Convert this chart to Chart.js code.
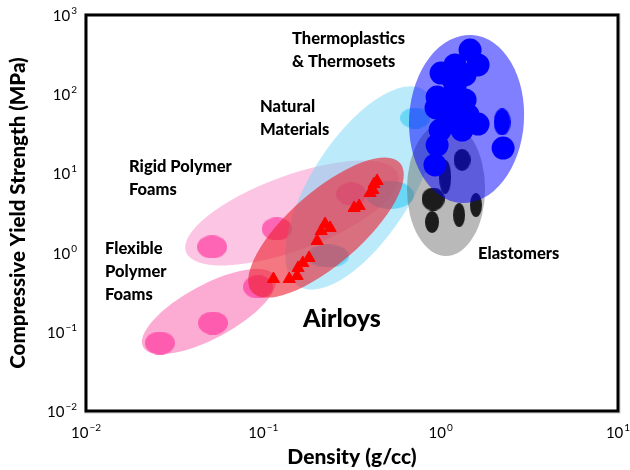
<!DOCTYPE html>
<html>
<head>
<meta charset="utf-8">
<script src="https://cdn.jsdelivr.net/npm/chart.js@4/dist/chart.umd.min.js"></script>
<style>body{margin:0;background:#fff}</style>
</head>
<body>
<canvas id="ashby" width="630" height="470"></canvas>
<script>
// density in g/cc, compressive yield strength in MPa
const airloysDensity  = [0.114, 0.140, 0.155, 0.157, 0.167, 0.181, 0.201, 0.212, 0.223, 0.238, 0.325, 0.347, 0.400, 0.415, 0.421, 0.438];
const airloysStrength = [0.464, 0.464, 0.507, 0.640, 0.740, 0.855, 1.40, 1.87, 2.30, 2.05, 3.66, 3.87, 5.66, 6.17, 7.35, 8.02];

const rigidFoamDensity  = [0.0514, 0.119, 0.313];
const rigidFoamStrength = [1.18, 1.99, 5.5];

const flexFoamDensity  = [0.0261, 0.052, 0.0933];
const flexFoamStrength = [0.0722, 0.129, 0.368];

const naturalDensity  = [0.718, 0.519, 0.232];
const naturalStrength = [50, 5.34, 0.906];

const elastomerDensity  = [0.906, 0.894, 1.27, 1.58, 1.32, 1.06];
const elastomerStrength = [4.75, 2.43, 2.98, 3.99, 14.8, 9.0];

const plasticDensity  = [1.465, 1.625, 1.205, 1.005, 1.159, 1.373, 1.205, 0.955, 0.942, 1.145, 1.373, 1.428, 1.101, 1.625, 1.32, 0.993, 0.955, 0.929, 2.25];
const plasticStrength = [361, 234, 234, 185, 160, 175, 120, 92, 67, 67, 84.5, 54.6, 53, 42, 35.3, 35.3, 22.8, 12.8, 20.9];
const plasticOddDensity  = [2.22];
const plasticOddStrength = [44.6];

// property envelopes: [end of long axis, other end, point on the short axis edge]
const rigidFoamEnvelope = [[0.0366, 1.018], [0.575, 9.83], [0.172, 1.143]];
const flexFoamEnvelope  = [[0.0210, 0.0643], [0.1164, 0.506], [0.0585, 0.0911]];
const naturalEnvelope   = [[0.157, 0.379], [0.805, 113], [0.614, 2.98]];
const airloysEnvelope   = [[0.0863, 0.318], [0.590, 13.5], [0.308, 0.933]];
const elastomerEnvelope = [[1.072, 44.6], [1.072, 0.906], [1.78, 6.35]];
const plasticEnvelope   = [[1.503, 559], [1.303, 4.23], [2.95, 48.6]];

const xExponents = [-2, -1, 0, 1];
const yExponents = [-2, -1, 0, 1, 2, 3];

const notes = [
  {lines: ['Thermoplastics', '& Thermosets'], x: 292, y: 44, size: 16.5},
  {lines: ['Natural', 'Materials'], x: 260, y: 112, size: 16.5},
  {lines: ['Rigid Polymer', 'Foams'], x: 129, y: 172, size: 16.5},
  {lines: ['Flexible', 'Polymer', 'Foams'], x: 105, y: 254, size: 16.5},
  {lines: ['Airloys'], x: 303, y: 327, size: 25},
  {lines: ['Elastomers'], x: 478, y: 259, size: 16.5}
];

const FONT = 'Lato, "Open Sans", sans-serif';

function blob(w, h, color) {
  const c = document.createElement('canvas');
  c.width = w;
  c.height = h;
  const g = c.getContext('2d');
  g.fillStyle = color;
  g.beginPath();
  g.ellipse(w / 2, h / 2, w / 2, h / 2, 0, 0, Math.PI * 2);
  g.fill();
  return c;
}

function pairs(xs, ys) {
  return xs.map((x, i) => ({x: x, y: ys[i]}));
}

const pinkDot = blob(30, 23, 'rgba(255, 60, 160, 0.7)');
const cyanDots = [blob(30, 21, 'rgba(40, 200, 245, 0.55)'), blob(48, 28, 'rgba(40, 200, 245, 0.55)'), blob(42, 23, 'rgba(40, 200, 245, 0.55)')];
const black = 'rgb(28, 28, 28)';
const blackDots = [blob(23, 23, black), blob(14, 22, black), blob(12, 24, black), blob(12, 24, black), blob(17, 22, black), blob(12, 34, black)];

// datasets listed bottom to top; envelope drawn right before its dataset
const layers = [
  {label: 'rigid', data: pairs(rigidFoamDensity, rigidFoamStrength), pointStyle: pinkDot,
   env: rigidFoamEnvelope, envColor: 'rgba(250, 140, 200, 0.5)'},
  {label: 'flexible', data: pairs(flexFoamDensity, flexFoamStrength), pointStyle: pinkDot,
   env: flexFoamEnvelope, envColor: 'rgba(250, 110, 180, 0.58)'},
  {label: 'natural', data: pairs(naturalDensity, naturalStrength), pointStyle: cyanDots,
   env: naturalEnvelope, envColor: 'rgba(120, 215, 245, 0.5)'},
  {label: 'elastomer', data: pairs(elastomerDensity, elastomerStrength), pointStyle: blackDots,
   env: elastomerEnvelope, envColor: 'rgba(100, 100, 100, 0.45)'},
  {label: 'plastic', data: pairs(plasticDensity, plasticStrength), pointStyle: 'circle', radius: 11.5,
   backgroundColor: '#0000ff', borderWidth: 0,
   env: plasticEnvelope, envColor: 'rgba(0, 0, 255, 0.5)'},
  {label: 'plastic2', data: pairs(plasticOddDensity, plasticOddStrength), pointStyle: blob(17, 27, '#0000ff')},
  {label: 'airloys', data: pairs(airloysDensity, airloysStrength), pointStyle: 'triangle', radius: 7,
   backgroundColor: '#ff0000', borderColor: '#ff0000', borderWidth: 1,
   env: airloysEnvelope, envColor: 'rgba(235, 30, 45, 0.6)'}
];

const datasets = layers.map((l, i) => Object.assign({order: layers.length - i, showLine: false}, l));

const envelopes = {
  id: 'envelopes',
  beforeDatasetDraw(chart, args) {
    const ds = chart.data.datasets[args.index];
    if (!ds.env) return;
    const {x, y} = chart.scales;
    const p = ds.env.map(([d, s]) => [x.getPixelForValue(d), y.getPixelForValue(s)]);
    const cx = (p[0][0] + p[1][0]) / 2;
    const cy = (p[0][1] + p[1][1]) / 2;
    const rx = Math.hypot(p[1][0] - p[0][0], p[1][1] - p[0][1]) / 2;
    const ry = Math.hypot(p[2][0] - cx, p[2][1] - cy);
    const rot = Math.atan2(p[1][1] - p[0][1], p[1][0] - p[0][0]);
    const ctx = chart.ctx;
    ctx.save();
    ctx.fillStyle = ds.envColor;
    ctx.beginPath();
    ctx.ellipse(cx, cy, rx, ry, rot, 0, Math.PI * 2);
    ctx.fill();
    ctx.restore();
  }
};

function powerLabel(ctx, e, x, y, align) {
  ctx.font = '15px ' + FONT;
  const base = ctx.measureText('10').width;
  ctx.font = '10px ' + FONT;
  const sup = String(e).replace('-', '\u2212');
  const supW = ctx.measureText(sup).width;
  const total = base + supW + 1;
  let left = x;
  if (align === 'center') left = x - total / 2;
  if (align === 'right') left = x - total;
  ctx.textBaseline = 'alphabetic';
  ctx.textAlign = 'left';
  ctx.font = '15px ' + FONT;
  ctx.fillText('10', left, y);
  ctx.font = '10px ' + FONT;
  ctx.fillText(sup, left + base + 1, y - 7);
}

const frame = {
  id: 'frame',
  afterDraw(chart) {
    const {ctx, chartArea: a} = chart;
    const {x, y} = chart.scales;
    ctx.save();
    ctx.fillStyle = '#000';
    xExponents.forEach(e => powerLabel(ctx, e, x.getPixelForValue(Math.pow(10, e)), a.bottom + 27, 'center'));
    yExponents.forEach(e => powerLabel(ctx, e, a.left - 9, y.getPixelForValue(Math.pow(10, e)) + 6, 'right'));
    notes.forEach(n => {
      ctx.font = '900 ' + n.size + 'px ' + FONT;
      n.lines.forEach((t, i) => ctx.fillText(t, n.x, n.y + i * 23));
    });
    ctx.strokeStyle = '#c8c8c8';
    ctx.lineWidth = 1;
    ctx.strokeRect(a.left - 1, a.top - 1, a.right - a.left + 3, a.bottom - a.top + 3);
    ctx.strokeStyle = '#000';
    ctx.lineWidth = 3;
    ctx.strokeRect(a.left, a.top, a.right - a.left, a.bottom - a.top);
    ctx.restore();
  }
};

new Chart(document.getElementById('ashby'), {
  type: 'scatter',
  data: {datasets: datasets},
  options: {
    responsive: false,
    animation: false,
    layout: {padding: {top: 15, right: 12, left: 0, bottom: 0}},
    plugins: {legend: {display: false}, tooltip: {enabled: false}},
    scales: {
      x: {
        type: 'logarithmic', min: 0.01, max: 10,
        grid: {display: false}, border: {display: false},
        ticks: {display: false},
        afterFit(s) { s.height = 59; },
        title: {display: true, text: 'Density (g/cc)', color: '#000',
                font: {family: FONT, size: 21, weight: '900'}, padding: {top: 1, bottom: 0}}
      },
      y: {
        type: 'logarithmic', min: 0.01, max: 1000,
        grid: {display: false}, border: {display: false},
        ticks: {display: false},
        afterFit(s) { s.width = 86; },
        title: {display: true, text: 'Compressive Yield Strength (MPa)', color: '#000',
                font: {family: FONT, size: 20.5, weight: '900'}, padding: {top: 6, bottom: 0}}
      }
    }
  },
  plugins: [envelopes, frame]
});
</script>
</body>
</html>
